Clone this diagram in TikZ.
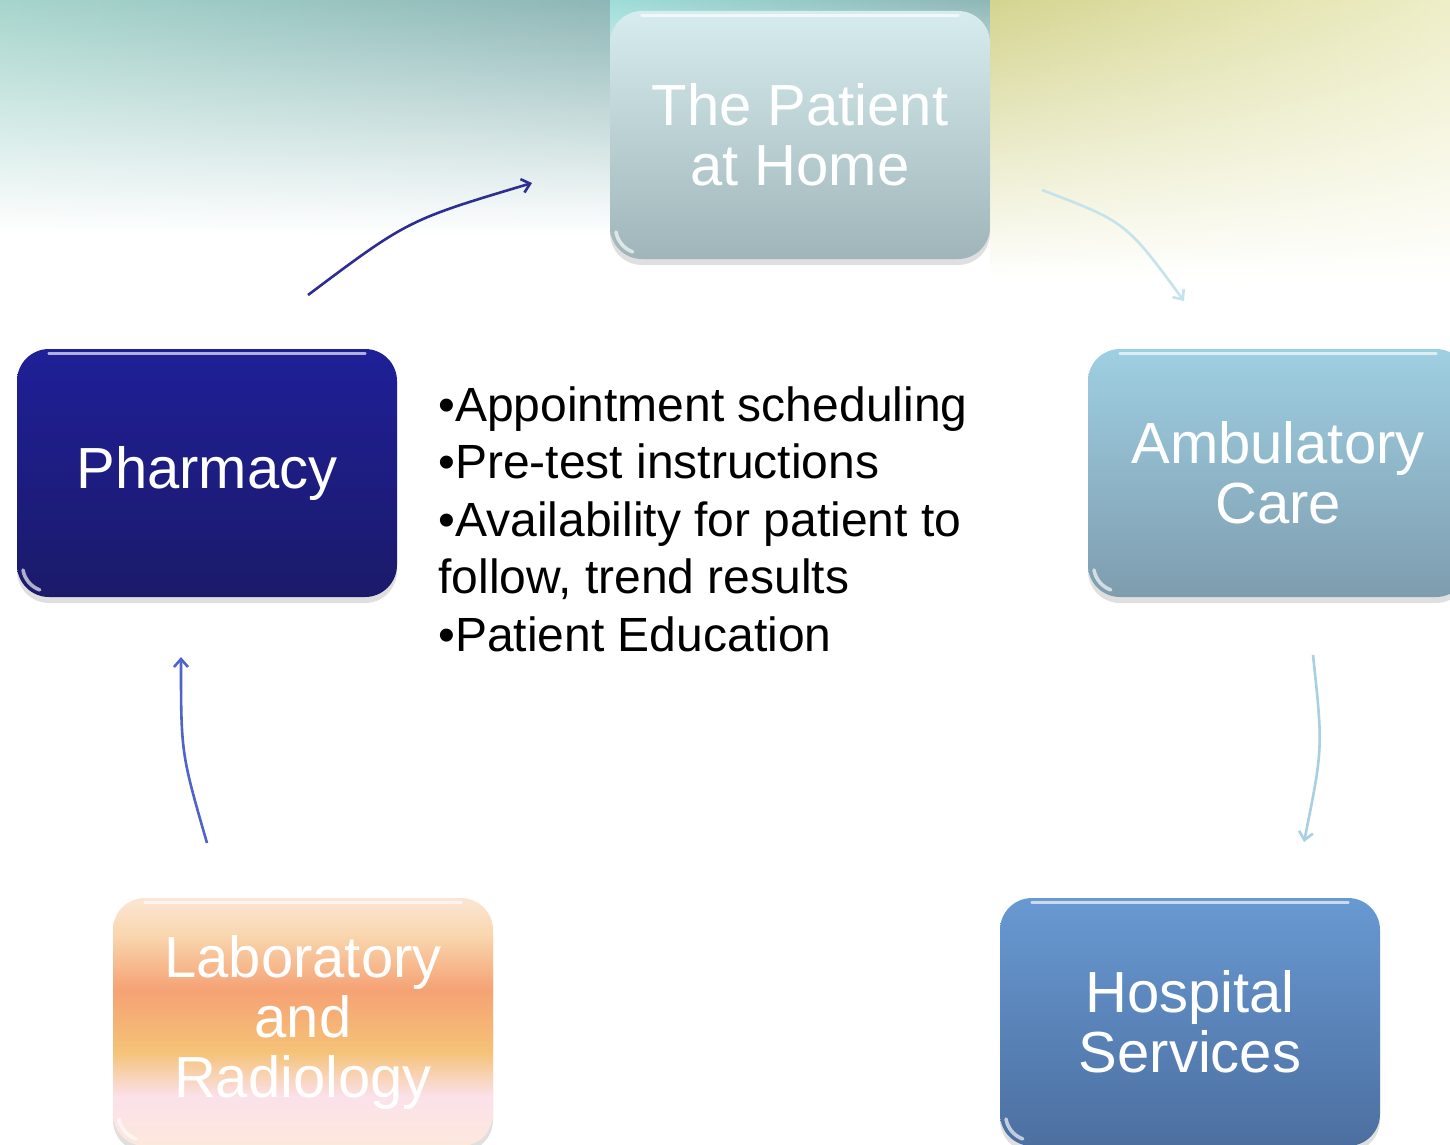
\documentclass[tikz,border=0pt]{standalone}
\usepackage{fontspec}
\setmainfont{Liberation Sans}
\usetikzlibrary{arrows.meta,shadows}
\definecolor{bgA}{HTML}{A6D4CC}
\definecolor{bgB}{HTML}{8EB6B6}
\definecolor{bgC}{HTML}{D4D490}
\definecolor{bgD}{HTML}{EEEEC8}
\definecolor{bgE}{HTML}{9EDCD8}
\definecolor{patT}{HTML}{D6ECEE}
\definecolor{patB}{HTML}{9FB5B9}
\definecolor{ambT}{HTML}{9FCFE2}
\definecolor{ambB}{HTML}{7E9DAF}
\definecolor{phaT}{HTML}{1F1F98}
\definecolor{phaB}{HTML}{1B1A6A}
\definecolor{hosT}{HTML}{6899D2}
\definecolor{hosB}{HTML}{4C6FA0}
\definecolor{arA}{HTML}{2E2E90}
\definecolor{arB}{HTML}{C5E3EA}
\definecolor{arC}{HTML}{A9CFE2}
\definecolor{arD}{HTML}{4F63C9}
\definecolor{lab1}{HTML}{FBE6D4}
\definecolor{lab2}{HTML}{F9D6AE}
\definecolor{lab3}{HTML}{F5A274}
\definecolor{lab4}{HTML}{F5C277}
\definecolor{lab5}{HTML}{FBE1EA}
\definecolor{lab6}{HTML}{FDE8DC}
\pgfdeclareverticalshading{labshade}{100bp}{color(0bp)=(lab6); color(25bp)=(lab6); color(35bp)=(lab5); color(44bp)=(lab4); color(56.5bp)=(lab3); color(67.5bp)=(lab2); color(75bp)=(lab1); color(100bp)=(lab1)}
\tikzset{
  box/.style={rounded corners=16pt, minimum width=190pt, minimum height=124pt,
    text=white, font=\fontsize{29}{30}\selectfont, align=center, inner sep=0pt,
    drop shadow={shadow xshift=0pt, shadow yshift=-3pt, opacity=0.25, fill=gray}},
  arr/.style={line width=1.3pt, -{Straight Barb[length=4pt,width=7pt]}},
  shine/.style={white, opacity=0.65, line width=1.2pt, line cap=round}
}
\begin{document}
\begin{tikzpicture}[x=0.5pt,y=-0.5pt]
\useasboundingbox (0,0) rectangle (1450,1145);
\clip (0,0) rectangle (1450,1145);
\fill[white] (0,0) rectangle (1450,1145);
% background
\foreach \i in {0,...,61}{
  \pgfmathtruncatemacro\p{100-\i*100/61}
  \fill[top color=bgA!\p!bgB, bottom color=white, middle color=bgA!\p!bgB!50!white]
    (10*\i,0) rectangle (10*\i+10.6,235);
}
\foreach \i in {0,...,38}{
  \pgfmathtruncatemacro\p{100-\i*100/38}
  \fill[top color=bgE!\p!bgB, bottom color=white, middle color=bgE!\p!bgB!50!white]
    (610+10*\i,0) rectangle (610+10*\i+10.6,120);
}
\foreach \i in {0,...,46}{
  \pgfmathtruncatemacro\p{100-\i*100/46}
  \fill[top color=bgC!\p!bgD, bottom color=white, middle color=bgC!\p!bgD!50!white]
    (990+10*\i,0) rectangle (990+10*\i+10.6,280);
}
% boxes
\node[box, top color=patT, bottom color=patB] (home) at (800,135) {The Patient\\at Home};
\node[box, top color=ambT, bottom color=ambB] (amb) at (1278,473) {Ambulatory\\Care};
\node[box, top color=hosT, bottom color=hosB] (hosp) at (1190,1022) {Hospital\\Services};
\node[box, shading=labshade] (lab) at (303,1022) {Laboratory\\and\\Radiology};
\node[box, top color=phaT, bottom color=phaB] (pharm) at (207,473) {Pharmacy};
% highlights
\foreach \n in {home,amb,hosp,lab,pharm}{
  \draw[shine] ([xshift=16pt,yshift=-2.5pt]\n.north west) -- ([xshift=-16pt,yshift=-2.5pt]\n.north east);
  \draw[shine, line width=1.8pt] ([xshift=3.2pt,yshift=13.7pt]\n.south west) arc[start angle=190, end angle=250, radius=13pt];
}
% bullet text
\node[anchor=north west, align=left, inner sep=0pt, font=\fontsize{24}{28.75}\selectfont] (list) at (438,386)
  {•Appointment scheduling\\•Pre-test instructions\\•Availability for patient to\\follow, trend results\\•Patient Education};
% connectors
\coordinate (a1s) at (308,295); \coordinate (a1e) at (532,183);
\coordinate (a2s) at (1042,190); \coordinate (a2e) at (1184,301);
\coordinate (a3s) at (1313,655); \coordinate (a3e) at (1304,842);
\coordinate (a4s) at (207,843); \coordinate (a4e) at (181,657);
\draw[arr, arA] (a1s) .. controls (408,220) .. (a1e);
\draw[arr, arB] (a2s) .. controls (1126,222) .. (a2e);
\draw[arr, arC] (a3s) .. controls (1323,748) .. (a3e);
\draw[arr, arD] (a4s) .. controls (181,753) .. (a4e);
\end{tikzpicture}
\end{document}
